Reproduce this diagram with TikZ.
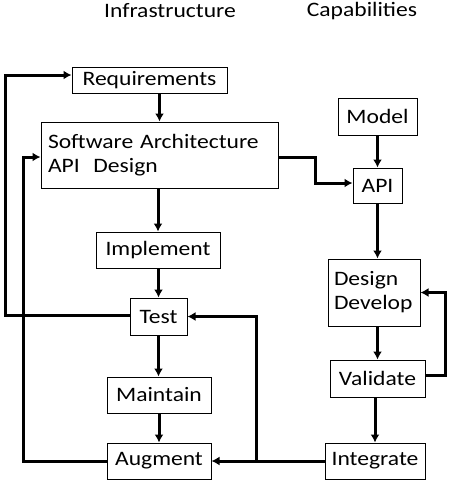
\documentclass[tikz,border=0pt]{standalone}
\usepackage{fontspec}
\setmainfont{Carlito}[FakeStretch=1.15]
\usetikzlibrary{arrows.meta,calc}
\begin{document}
\begin{tikzpicture}[x=1pt,y=-1pt,
  box/.style={draw,line width=1pt,inner sep=0pt,font=\fontsize{20.5}{24}\selectfont},
  conn/.style={line width=3pt,-{Latex[length=8pt,width=9pt]}},
  title/.style={font=\fontsize{20.5}{24}\selectfont,inner sep=0pt}]
\useasboundingbox (0,0) rectangle (448,480);
\node[title] (t1) at (170,11) {Infrastructure};
\node[title] (t2) at (362,11) {Capabilities};
\node[box,minimum width=155pt,minimum height=26pt] (req) at (149.5,80) {Requirements};
\node[box,minimum width=237pt,minimum height=66pt,align=left,text width=223pt] (sa) at (159.5,155) {Software Architecture\\API~ Design};
\node[box,minimum width=124pt,minimum height=36pt] (impl) at (158,250) {Implement};
\node[box,minimum width=57pt,minimum height=37pt] (test) at (158.5,316.5) {Test};
\node[box,minimum width=104pt,minimum height=36pt] (maint) at (159,395) {Maintain};
\node[box,minimum width=104pt,minimum height=36pt] (aug) at (159,461) {Augment};
\node[box,minimum width=79pt,minimum height=37pt] (model) at (377.5,116.5) {Model};
\node[box,minimum width=49pt,minimum height=35pt] (api) at (377.5,185.5) {API};
\node[box,minimum width=92pt,minimum height=67pt,align=left,text width=80pt] (dd) at (374,292.5) {Design\\Develop};
\node[box,minimum width=95pt,minimum height=37pt] (val) at (377.5,378.5) {Validate};
\node[box,minimum width=100pt,minimum height=36pt] (integ) at (375,461) {Integrate};
% left column
\draw[conn] (req.south -| sa.north) -- (sa.north);
\draw[conn] (sa.south -| impl.north) -- (impl.north);
\draw[conn] (impl.south -| test.north) -- (test.north);
\draw[conn] (test.south) -- (test.south |- maint.north);
\draw[conn] (maint.south) -- (aug.north);
% loops
\coordinate (l1) at (5,0);
\coordinate (l2) at (23,0);
\coordinate (rq) at ([yshift=5pt]req.west);
\coordinate (tw) at ([yshift=1.5pt]test.west);
\draw[conn] (tw) -- (tw -| l1) -- (l1 |- rq) -- (rq);
\coordinate (saw) at ([yshift=-2pt]sa.west);
\draw[conn] (aug.west) -- (aug.west -| l2) -- (l2 |- saw) -- (saw);
% sa to api
\coordinate (b1) at (315,0);
\coordinate (sae) at ([yshift=-2pt]sa.east);
\coordinate (apiw) at ([yshift=2.5pt]api.west);
\draw[conn] (sae) -- (sae -| b1) -- (b1 |- apiw) -- (apiw);
% right column
\draw[conn] (model.south) -- (model.south |- api.north);
\draw[conn] (api.south) -- (api.south |- dd.north);
\draw[conn] (dd.south -| api.south) -- (api.south |- val.north);
\draw[conn] (val.south -| integ.north) -- (integ.north);
\coordinate (r1) at (445,0);
\coordinate (ve) at ([yshift=3pt]val.east);
\draw[conn] (ve) -- (ve -| r1) -- (r1 |- dd.east) -- (dd.east);
% integrate to augment and test
\coordinate (j) at (256,0);
\draw[conn] (integ.west) -- (aug.east);
\draw[conn] (j |- integ.west) -- (j |- test.east) -- (test.east);
\end{tikzpicture}
\end{document}
